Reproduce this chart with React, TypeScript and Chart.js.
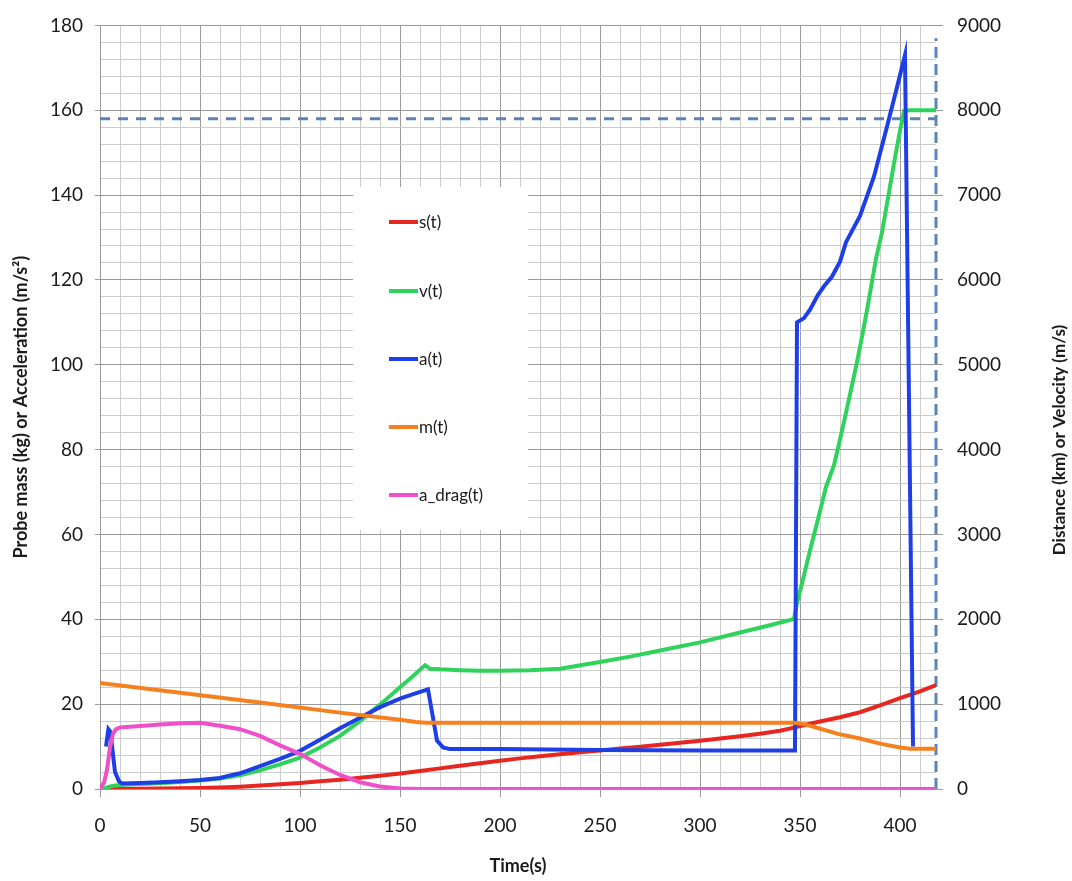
import React, { useEffect, useRef } from 'react';
import { Chart, registerables } from 'chart.js';

Chart.register(...registerables);

// ---------- data ----------
// s(t): distance in km (right axis)
const sTime = [0, 10, 20, 30, 40, 50, 60, 70, 80, 90, 100, 110, 120, 130, 140, 150, 160, 170, 180, 190, 200, 210, 220, 230, 240, 250, 260, 270, 280, 290, 300, 310, 320, 330, 340, 347, 350, 360, 370, 380, 390, 400, 410, 418];
const sKm = [0, 1, 3, 5, 8, 12, 18, 27, 40, 55, 72, 90, 110, 132, 157, 183, 212, 243, 273, 303, 333, 361, 387, 410, 432, 454, 476, 498, 521, 545, 570, 596, 623, 652, 686, 723, 742, 795, 845, 905, 985, 1070, 1150, 1225];

// v(t): velocity in m/s (right axis)
const vTime = [0, 3, 6, 10, 20, 30, 40, 50, 60, 70, 80, 90, 100, 110, 120, 130, 140, 150, 156, 162.5, 165, 170, 180, 190, 200, 215, 230, 250, 265, 280, 300, 320, 335, 347, 348.5, 352, 355, 360, 363, 367, 370, 373, 378, 381, 384, 388, 391, 393, 395, 397, 400, 402, 405, 418];
const vMs = [0, 15, 35, 48, 58, 68, 82, 100, 124, 162, 220, 290, 370, 490, 626, 800, 994, 1200, 1320, 1458, 1418, 1410, 1400, 1395, 1395, 1400, 1418, 1496, 1560, 1632, 1728, 1844, 1930, 2005, 2190, 2520, 2810, 3274, 3560, 3816, 4120, 4434, 4976, 5330, 5710, 6251, 6560, 6831, 7100, 7376, 7759, 7991, 8000, 8000];

// a(t): acceleration in m/s² (left axis)
const aTime = [3, 4.2, 5.2, 7.5, 9.5, 11, 20, 30, 40, 50, 60, 65, 70, 80, 90, 100, 110, 120, 130, 140, 150, 157, 164, 166.5, 168.5, 171.5, 175, 200, 250, 300, 347.5, 348.5, 352, 355, 359, 362, 366, 370, 373, 380, 387, 393, 398, 402.5, 406.5];
const aVal = [10, 14.1, 13.5, 4, 1.8, 1.3, 1.4, 1.6, 1.8, 2.1, 2.6, 3.2, 3.7, 5.4, 7.1, 9, 11.6, 14.3, 16.8, 19.3, 21.3, 22.4, 23.5, 16.8, 11.4, 9.8, 9.4, 9.4, 9.2, 9.1, 9.1, 110, 111, 113, 116.5, 118.5, 120.8, 124.3, 128.9, 135.1, 144.4, 155.2, 164.5, 173, 10];

// m(t): probe mass in kg (left axis)
const mTime = [0, 40, 80, 120, 150, 158, 163, 200, 250, 300, 347, 352, 358, 369, 380, 390, 400, 405, 418];
const mKg = [25, 22.7, 20.4, 18.0, 16.3, 15.8, 15.6, 15.6, 15.6, 15.6, 15.6, 15.3, 14.5, 13.0, 11.9, 10.7, 9.8, 9.5, 9.5];

// a_drag(t): drag acceleration in m/s² (left axis)
const dragTime = [0, 2, 3.5, 5, 6.5, 8, 10, 15, 22, 30, 40, 50, 60, 70, 80, 90, 100, 110, 120, 130, 140, 150, 160, 418];
const dragVal = [0, 1.5, 4.5, 9.8, 13, 14.1, 14.5, 14.7, 14.9, 15.2, 15.5, 15.6, 14.9, 14.1, 12.5, 10.3, 8.3, 5.6, 3.3, 1.6, 0.6, 0.1, 0, 0];

// reference lines
const orbitalVelocity = 7900; // m/s, dashed horizontal
const burnoutTime = 418; // s, dashed vertical
const burnoutLineTop = 8850;

// axes
const timeMin = 0;
const timeMax = 418;
const leftMin = 0;
const leftMax = 180;
const rightMin = 0;
const rightMax = 9000;

const legendLabels = ['s(t)', 'v(t)', 'a(t)', 'm(t)', 'a_drag(t)'];
const seriesColors = ['#e8261f', '#2fd35c', '#1e3ee6', '#f5801f', '#ef4fc8'];

const xLabel = 'Time(s)';
const yLeftLabel = 'Probe mass (kg) or Acceleration (m/s²)';
const yRightLabel = 'Distance (km) or Velocity (m/s)';

// ---------- styling ----------
const FONT = 'Lato, "Open Sans", "DejaVu Sans", sans-serif';
const MAJOR = '#9a9a9a';
const MINOR = '#cccccc';
const TEXT = '#1a1a1a';
const DASH = '#5b83b6';

const pts = (xs: number[], ys: number[]) => xs.map((x, i) => ({ x, y: ys[i] }));
const isMult = (v: number, m: number) => Math.abs(v - Math.round(v / m) * m) < 1e-6;

const overlayPlugin = {
  id: 'overlay',
  beforeDatasetsDraw(chart: any) {
    const ctx = chart.ctx as CanvasRenderingContext2D;
    ctx.save();
    ctx.fillStyle = '#ffffff';
    ctx.fillRect(353, 187, 175, 343);
    const ys = [222, 291, 359, 427, 495];
    ctx.font = `17px ${FONT}`;
    ctx.textBaseline = 'middle';
    ctx.textAlign = 'left';
    legendLabels.forEach((lab, i) => {
      ctx.strokeStyle = seriesColors[i];
      ctx.lineWidth = 4;
      ctx.beginPath();
      ctx.moveTo(389, ys[i]);
      ctx.lineTo(418, ys[i]);
      ctx.stroke();
      ctx.fillStyle = TEXT;
      ctx.fillText(lab, 419, ys[i] + 1);
    });
    ctx.restore();
  },
  afterDraw(chart: any) {
    const ctx = chart.ctx as CanvasRenderingContext2D;
    ctx.save();
    ctx.translate(1060, 440);
    ctx.rotate(-Math.PI / 2);
    ctx.font = `bold 17px ${FONT}`;
    ctx.fillStyle = TEXT;
    ctx.textAlign = 'center';
    ctx.textBaseline = 'middle';
    ctx.fillText(yRightLabel, 0, 0);
    ctx.restore();
  },
};

export default function App() {
  const ref = useRef<HTMLCanvasElement>(null);

  useEffect(() => {
    if (!ref.current) return;
    Chart.defaults.font.family = FONT;
    const line = (label: string, xs: number[], ys: number[], color: string, axis: string, order: number) => ({
      label,
      data: pts(xs, ys),
      yAxisID: axis,
      borderColor: color,
      backgroundColor: color,
      borderWidth: 4,
      pointRadius: 0,
      tension: 0,
      fill: false,
      order,
    });
    const chart = new Chart(ref.current, {
      type: 'line',
      data: {
        datasets: [
          line(legendLabels[4], dragTime, dragVal, seriesColors[4], 'y', 1),
          line(legendLabels[3], mTime, mKg, seriesColors[3], 'y', 2),
          line(legendLabels[2], aTime, aVal, seriesColors[2], 'y', 3),
          line(legendLabels[1], vTime, vMs, seriesColors[1], 'y1', 4),
          line(legendLabels[0], sTime, sKm, seriesColors[0], 'y1', 5),
          {
            label: 'orbit',
            data: [{ x: timeMin, y: orbitalVelocity }, { x: burnoutTime, y: orbitalVelocity }],
            yAxisID: 'y1',
            borderColor: DASH,
            borderWidth: 3,
            borderDash: [10, 8],
            pointRadius: 0,
            order: 10,
            clip: false,
          },
          {
            label: 'burnout',
            data: [{ x: burnoutTime, y: 0 }, { x: burnoutTime, y: burnoutLineTop }],
            yAxisID: 'y1',
            borderColor: DASH,
            borderWidth: 3,
            borderDash: [11, 6],
            pointRadius: 0,
            order: 10,
            clip: false,
          },
        ] as any,
      },
      options: {
        animation: false,
        responsive: false,
        layout: { padding: { top: 13, left: 0, right: 0, bottom: 0 } },
        plugins: { legend: { display: false }, tooltip: { enabled: false } },
        scales: {
          x: {
            type: 'linear',
            min: timeMin,
            max: timeMax,
            afterFit: (s: any) => { s.height = 92; },
            ticks: {
              stepSize: 10,
              includeBounds: false,
              autoSkip: false,
              maxRotation: 0,
              padding: 17,
              color: TEXT,
              font: { size: 19 },
              callback: (v: any) => (isMult(Number(v), 50) ? String(Math.round(Number(v))) : ''),
            },
            grid: {
              color: (c: any) => (c.tick && isMult(c.tick.value, 50) ? MAJOR : MINOR),
              tickColor: (c: any) => (c.tick && isMult(c.tick.value, 50) ? MAJOR : 'rgba(0,0,0,0)'),
              tickLength: 8,
              lineWidth: 1,
            },
            border: { color: MAJOR },
            title: { display: true, text: xLabel, color: TEXT, font: { size: 18, weight: 'bold' }, padding: { top: 0, bottom: 4 } },
          },
          y: {
            position: 'left',
            min: leftMin,
            max: leftMax,
            afterFit: (s: any) => { s.width = 100; },
            ticks: {
              stepSize: 4,
              autoSkip: false,
              padding: 12,
              color: TEXT,
              font: { size: 19 },
              callback: (v: any) => (isMult(Number(v), 20) ? String(Math.round(Number(v))) : ''),
            },
            grid: {
              color: (c: any) => (c.tick && isMult(c.tick.value, 20) ? MAJOR : MINOR),
              tickColor: (c: any) => (c.tick && isMult(c.tick.value, 20) ? MAJOR : 'rgba(0,0,0,0)'),
              tickLength: 5,
              lineWidth: 1,
            },
            border: { color: MAJOR },
            title: { display: true, text: yLeftLabel, color: TEXT, font: { size: 18, weight: 'bold' }, padding: { top: 10, bottom: 0 } },
          },
          y1: {
            position: 'right',
            min: rightMin,
            max: rightMax,
            afterFit: (s: any) => { s.width = 136; },
            ticks: {
              stepSize: 1000,
              autoSkip: false,
              padding: 14,
              color: TEXT,
              font: { size: 19 },
              callback: (v: any) => String(Math.round(Number(v))),
            },
            grid: { drawOnChartArea: false, color: MAJOR, tickLength: 7 },
            border: { display: false },
          },
        },
      } as any,
      plugins: [overlayPlugin],
    });
    return () => chart.destroy();
  }, []);

  return (
    <div style={{ position: 'fixed', left: 0, top: 0, width: 1072, height: 881, background: '#ffffff' }}>
      <canvas ref={ref} width={1072} height={881} style={{ width: 1072, height: 881, display: 'block' }} />
    </div>
  );
}
